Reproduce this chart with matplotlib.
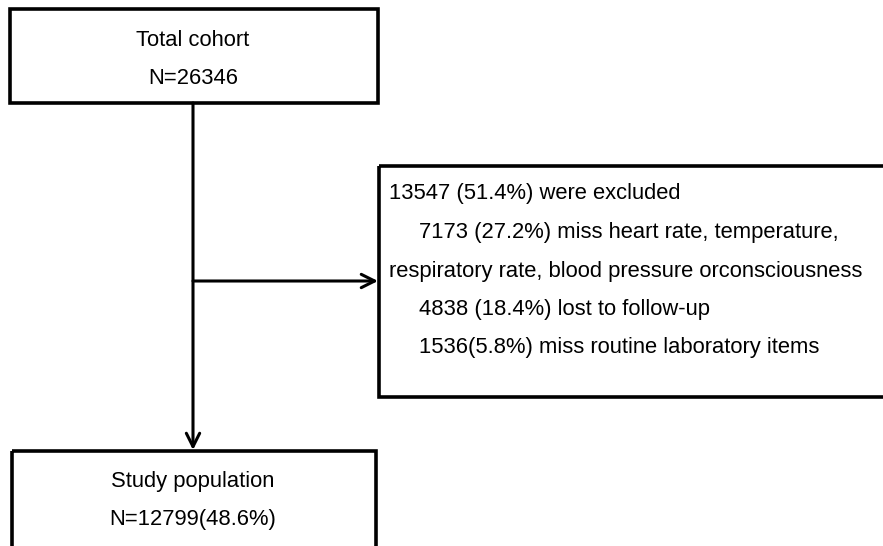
import matplotlib.pyplot as plt
from matplotlib.patches import Rectangle

# box texts
top_lines = ["Total cohort", "N=26346"]
bottom_lines = ["Study population", "N=12799(48.6%)"]
excl_lines = [
    "13547 (51.4%) were excluded",
    "7173 (27.2%) miss heart rate, temperature,",
    "respiratory rate, blood pressure orconsciousness",
    "4838 (18.4%) lost to follow-up",
    "1536(5.8%) miss routine laboratory items",
]
excl_indent = [0, 1, 0, 1, 1]

plt.rcParams['font.family'] = ['Liberation Sans', 'DejaVu Sans']

fig = plt.figure(figsize=(8.83, 5.46), dpi=100)
ax = fig.add_axes([0, 0, 1, 1])
ax.set_xlim(0, 883)
ax.set_ylim(546, 0)
ax.axis('off')

lw = 2.6
fs = 15.8

# top box
ax.add_patch(Rectangle((10, 9), 368, 94, fill=False, lw=lw, ec='black'))
for i, t in enumerate(top_lines):
    ax.text(193, 40 + i * 39, t, ha='center', va='center', fontsize=fs)

# exclusion box
ax.add_patch(Rectangle((379, 166), 510, 231, fill=False, lw=lw, ec='black'))
for i, t in enumerate(excl_lines):
    ax.text(389 + 30 * excl_indent[i], 194 + i * 38.5, t, ha='left', va='center',
            fontsize=fs)

# bottom box (runs off the page)
ax.add_patch(Rectangle((12, 451), 364, 120, fill=False, lw=lw, ec='black'))
for i, t in enumerate(bottom_lines):
    ax.text(193, 481 + i * 38, t, ha='center', va='center', fontsize=fs)

# arrows
arr = dict(arrowstyle='->', lw=2.2, color='black', mutation_scale=24,
           shrinkA=0, shrinkB=0)
ax.annotate('', xy=(193, 450), xytext=(193, 103), arrowprops=arr)
ax.annotate('', xy=(378, 281), xytext=(193, 281), arrowprops=arr)

fig.savefig('out.png', dpi=100, facecolor='white')
